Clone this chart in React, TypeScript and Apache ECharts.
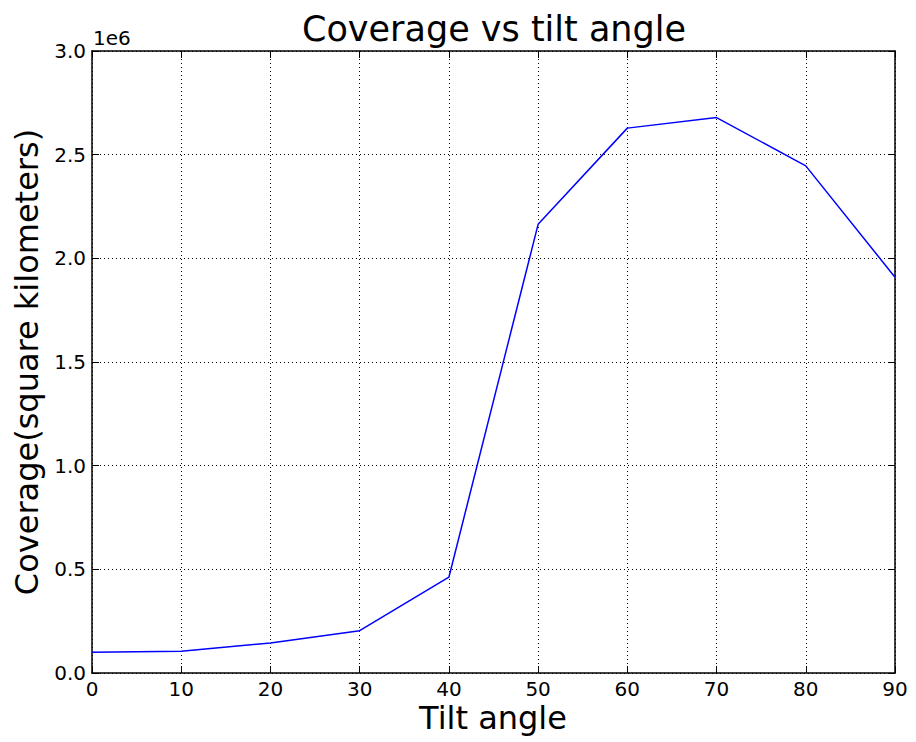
import React, { useEffect, useRef } from "react";
import * as echarts from "echarts";

const tiltAngles = [0, 10, 20, 30, 40, 50, 60, 70, 80, 90];
const coverage = [100000, 105000, 145000, 204000, 462000, 2164000, 2628000, 2679000, 2446000, 1909000];
const titleText = "Coverage vs tilt angle";
const xLabel = "Tilt angle";
const yLabel = "Coverage(square kilometers)";
const offsetText = "1e6";

const FONT = "DejaVu Sans";

export default function App() {
  const ref = useRef<HTMLDivElement>(null);
  useEffect(() => {
    if (!ref.current) return;
    const chart = echarts.init(ref.current, null, { renderer: "svg" });
    const data = tiltAngles.map((x, i) => [x, coverage[i]]);
    const axisCommon = {
      axisLine: { show: true, onZero: false, lineStyle: { color: "#000", width: 1.5 } },
      axisTick: { show: true, inside: true, length: 7, lineStyle: { color: "#000", width: 1 } },
    };
    chart.setOption({
      animation: false,
      backgroundColor: "#fff",
      grid: { left: 92, right: 21, top: 51, bottom: 69 },
      xAxis: [
        {
          type: "value",
          min: 0,
          max: 90,
          interval: 10,
          ...axisCommon,
          axisLabel: { show: true, color: "#000", fontFamily: FONT, fontSize: 20, margin: 6 },
          splitLine: { show: true, lineStyle: { color: "#000", type: [1, 3], width: 1 } },
        },
        {
          type: "value",
          position: "top",
          min: 0,
          max: 90,
          interval: 10,
          ...axisCommon,
          axisLabel: { show: false },
          splitLine: { show: false },
        },
      ],
      yAxis: [
        {
          type: "value",
          min: 0,
          max: 3000000,
          interval: 500000,
          ...axisCommon,
          axisLabel: {
            show: true,
            color: "#000",
            fontFamily: FONT,
            fontSize: 20,
            margin: 6,
            formatter: (v: number) => (v / 1e6).toFixed(1),
          },
          splitLine: { show: true, lineStyle: { color: "#000", type: [1, 3], width: 1 } },
        },
        {
          type: "value",
          position: "right",
          min: 0,
          max: 3000000,
          interval: 500000,
          ...axisCommon,
          axisLabel: { show: false },
          splitLine: { show: false },
        },
      ],
      series: [
        {
          type: "line",
          data,
          xAxisIndex: 0,
          yAxisIndex: 0,
          showSymbol: false,
          symbol: "none",
          lineStyle: { color: "#0000ff", width: 1.5 },
        },
      ],
      graphic: [
        {
          type: "text",
          x: 494,
          y: 29,
          style: {
            text: titleText,
            fontFamily: FONT,
            fontSize: 35,
            fill: "#000",
            align: "center",
            verticalAlign: "middle",
          },
        },
        {
          type: "text",
          x: 493,
          y: 718,
          style: {
            text: xLabel,
            fontFamily: FONT,
            fontSize: 32,
            fill: "#000",
            align: "center",
            verticalAlign: "middle",
          },
        },
        {
          type: "text",
          x: 27,
          y: 362,
          rotation: Math.PI / 2,
          style: {
            text: yLabel,
            fontFamily: FONT,
            fontSize: 32,
            fill: "#000",
            align: "center",
            verticalAlign: "middle",
          },
        },
        {
          type: "text",
          x: 93,
          y: 38,
          style: {
            text: offsetText,
            fontFamily: FONT,
            fontSize: 20,
            fill: "#000",
            align: "left",
            verticalAlign: "middle",
          },
        },
      ],
    });
    return () => chart.dispose();
  }, []);
  return <div ref={ref} style={{ width: 916, height: 742, position: "absolute", left: 0, top: 0 }} />;
}
